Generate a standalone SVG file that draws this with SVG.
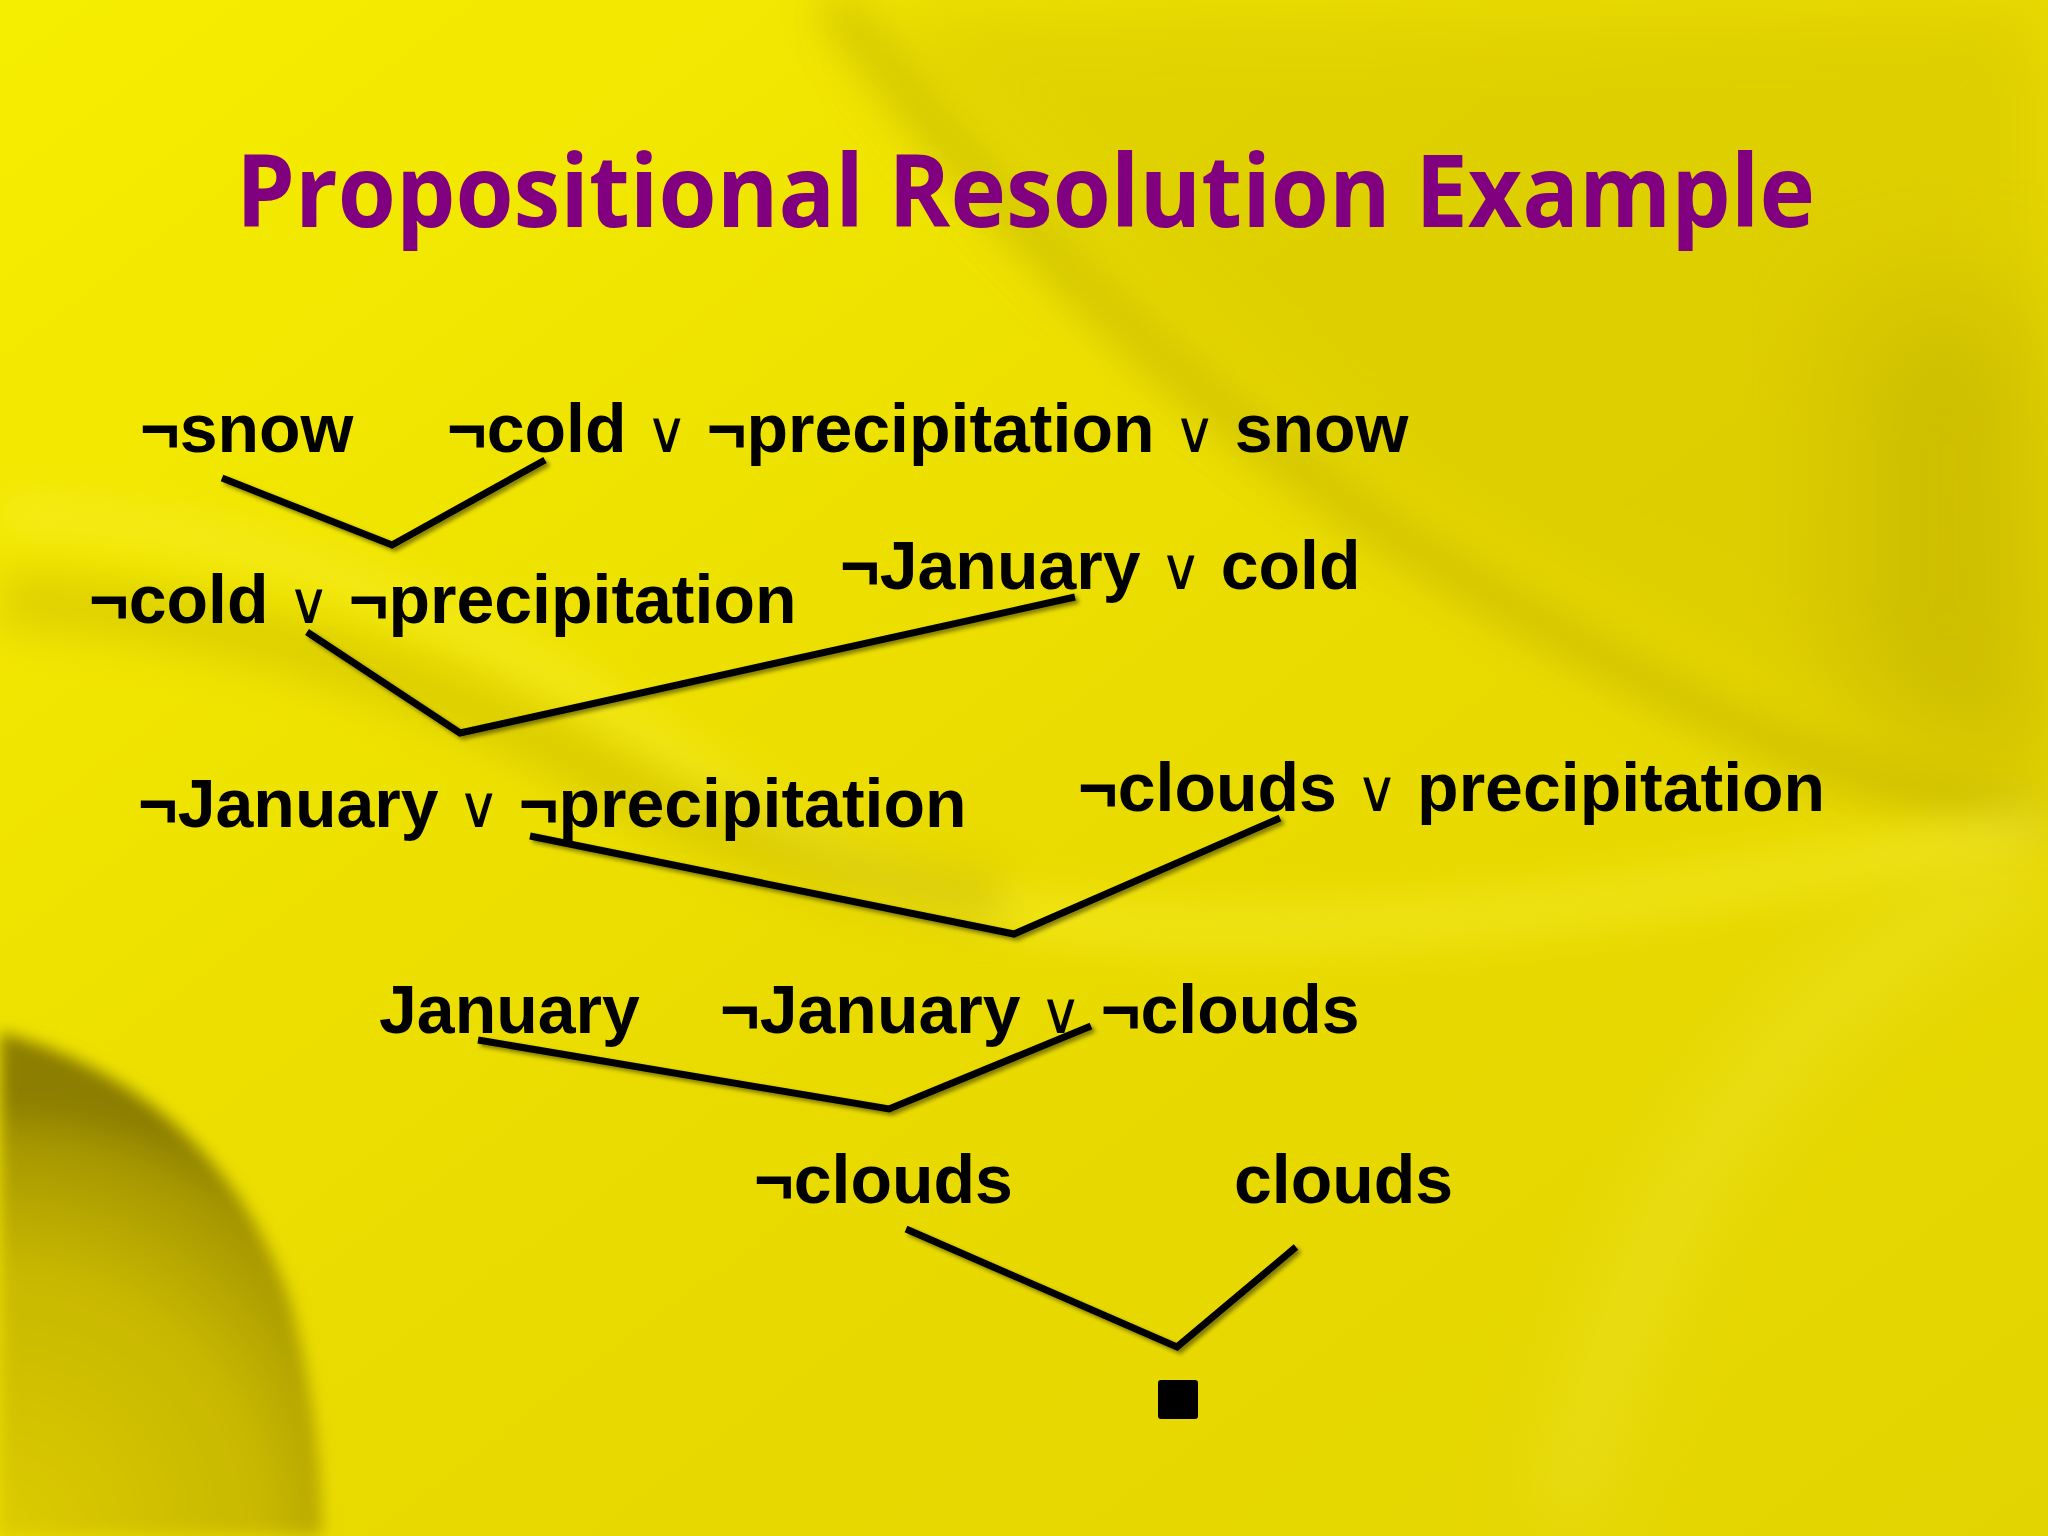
<svg xmlns="http://www.w3.org/2000/svg" width="2048" height="1536" viewBox="0 0 2048 1536">
  <defs>
    <style>
      .t { font-family: "Liberation Sans", Arial, sans-serif; font-weight: 700; font-size: 68px; fill: #000; }
      .or { font-family: "DejaVu Sans", sans-serif; font-weight: 400; font-size: 58px; }
      .title { font-family: "Open Sans", "Noto Sans", sans-serif; font-weight: 700; font-size: 101px; fill: #800080; }
      .conn { fill: none; stroke: #000; stroke-width: 7; stroke-linejoin: miter; stroke-linecap: butt; }
    </style>
    <filter id="shadow" x="-10%" y="-10%" width="120%" height="130%">
      <feDropShadow dx="3" dy="3" stdDeviation="2" flood-color="#000" flood-opacity="0.45"/>
    </filter>
    <filter id="blur40" x="-50%" y="-50%" width="200%" height="200%">
      <feGaussianBlur stdDeviation="40"/>
    </filter>
    <filter id="blur20" x="-50%" y="-50%" width="200%" height="200%">
      <feGaussianBlur stdDeviation="20"/>
    </filter>
    <filter id="blur8" x="-50%" y="-50%" width="200%" height="200%">
      <feGaussianBlur stdDeviation="8"/>
    </filter>
    <filter id="blur60" x="-50%" y="-50%" width="200%" height="200%">
      <feGaussianBlur stdDeviation="60"/>
    </filter>
    <linearGradient id="base" x1="0" y1="0" x2="1" y2="1">
      <stop offset="0" stop-color="#F6EE00"/>
      <stop offset="0.5" stop-color="#EADC00"/>
      <stop offset="1" stop-color="#E2D400"/>
    </linearGradient>
    <radialGradient id="corner" cx="0" cy="1536" r="440" gradientUnits="userSpaceOnUse">
      <stop offset="0" stop-color="#DCCC00"/>
      <stop offset="0.6" stop-color="#C8B800"/>
      <stop offset="0.88" stop-color="#A89800"/>
      <stop offset="1" stop-color="#8C7E00"/>
    </radialGradient>
  </defs>

  <!-- background -->
  <g id="background">
    <rect x="0" y="0" width="2048" height="1536" fill="url(#base)"/>
    <path d="M860 0 L2048 0 L2048 800 C1800 700 1450 560 1200 360 C1050 240 940 120 860 0 Z" fill="#D2C300" opacity="0.5" filter="url(#blur40)"/>
    <path d="M1850 300 L2048 300 L2048 800 C1980 770 1920 740 1850 710 Z" fill="#B8A800" opacity="0.4" filter="url(#blur60)"/>
    <path d="M830 0 C950 150 1150 400 1500 600 S1900 780 2048 820" fill="none" stroke="#A89A00" stroke-width="40" opacity="0.35" filter="url(#blur20)"/>
    <path d="M0 515 C180 520 340 560 520 660 C700 760 820 880 1000 910 C1300 960 1700 900 2048 820" fill="none" stroke="#FAF23A" stroke-width="40" opacity="0.45" filter="url(#blur20)"/>
    <path d="M0 600 C200 610 400 660 600 770 C720 840 860 880 1000 900" fill="none" stroke="#C2B200" stroke-width="60" opacity="0.4" filter="url(#blur20)"/>
    <path d="M2048 860 C1800 980 1650 1150 1560 1536" fill="none" stroke="#F2E840" stroke-width="80" opacity="0.35" filter="url(#blur40)"/>
    <path d="M0 1032 C140 1070 240 1160 290 1300 C312 1380 322 1460 322 1536 L0 1536 Z" fill="url(#corner)" filter="url(#blur8)"/>
  </g>

  <!-- title -->
  <g id="title">
    <text class="title" x="236" y="227" textLength="1579" lengthAdjust="spacingAndGlyphs">Propositional Resolution Example</text>
  </g>

  <!-- nodes -->
  <g id="n-notsnow"><text class="t" x="140" y="452">¬snow</text></g>
  <g id="n-rule-snow"><text class="t" x="447" y="452">¬cold <tspan class="or">∨</tspan> ¬precipitation <tspan class="or">∨</tspan> snow</text></g>
  <g id="n-notcold-notprecip"><text class="t" x="89" y="623">¬cold <tspan class="or">∨</tspan> ¬precipitation</text></g>
  <g id="n-rule-cold"><text class="t" x="840" y="589">¬January <tspan class="or">∨</tspan> cold</text></g>
  <g id="n-notjan-notprecip"><text class="t" x="138" y="827">¬January <tspan class="or">∨</tspan> ¬precipitation</text></g>
  <g id="n-rule-precip"><text class="t" x="1078" y="811">¬clouds <tspan class="or">∨</tspan> precipitation</text></g>
  <g id="n-january"><text class="t" x="379" y="1033">January</text></g>
  <g id="n-notjan-notclouds"><text class="t" x="720" y="1033">¬January <tspan class="or">∨</tspan> ¬clouds</text></g>
  <g id="n-notclouds"><text class="t" x="754" y="1203">¬clouds</text></g>
  <g id="n-clouds"><text class="t" x="1234" y="1203">clouds</text></g>
  <g id="n-empty"><rect x="1158" y="1380" width="40" height="39" rx="3" fill="#000"/></g>

  <!-- connectors -->
  <g id="connectors" filter="url(#shadow)">
    <polyline class="conn" points="222,478 392,545 545,460"/>
    <polyline class="conn" points="307,632 460,733 1075,597"/>
    <polyline class="conn" points="530,836 1014,934 1280,818"/>
    <polyline class="conn" points="478,1040 889,1109 1091,1026"/>
    <polyline class="conn" points="906,1229 1177,1347 1296,1247"/>
  </g>
</svg>
